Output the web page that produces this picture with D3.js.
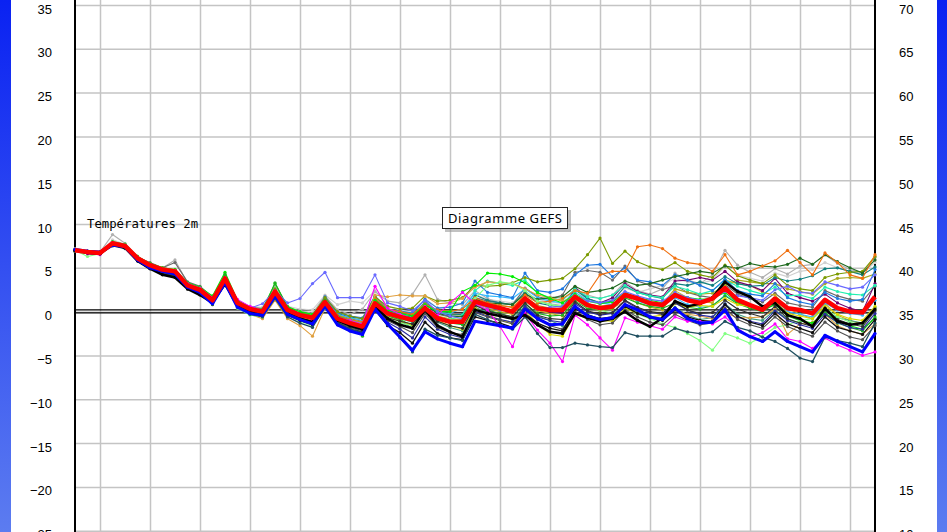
<!DOCTYPE html>
<html>
<head>
<meta charset="utf-8">
<script src="https://cdn.jsdelivr.net/npm/d3@7"></script>
<style>
  body { margin: 0; background: #fff; }
  svg { display: block; }
</style>
</head>
<body>
<script>
    //tick values for both axes
    var leftTicks = [-25, -20, -15, -10, -5, 0, 5, 10, 15, 20, 25, 30, 35];
    var rightTicks = [10, 15, 20, 25, 30, 35, 40, 45, 50, 55, 60, 65, 70];
    //vertical grid every 24h (index of the 6-hourly step)
    var dayGrid = [2, 6, 10, 14, 18, 22, 26, 30, 34, 38, 42, 46, 50, 54, 58, 62];

    //ensemble mean (red)
    var mean = [7.0,6.8,6.7,7.8,7.5,6.1,5.3,4.8,4.6,3.0,2.5,1.3,3.8,1.0,0.3,0.0,2.3,
        0.2,-0.4,-0.7,1.1,-0.8,-1.3,-1.7,0.95,-0.2,-0.6,-0.95,0.4,-0.75,-1.15,-1.15,
        1.15,0.75,0.4,0.0,1.5,0.4,0.2,0.2,1.7,0.75,0.4,0.6,1.9,1.5,0.95,0.75,
        1.9,1.3,1.0,1.5,2.7,1.35,0.75,0.2,1.5,0.4,0.2,-0.2,1.35,0.4,0.0,-0.1,1.7];

    //ensemble members
    var memBlue = [7.1,6.9,6.8,7.6,7.4,5.9,5.0,4.6,4.3,2.8,2.2,0.9,3.3,0.5,-0.2,-0.4,1.8,
        -0.3,-0.9,-1.4,0.6,-1.5,-2.2,-2.6,0.3,-1.4,-2.9,-4.4,-2.3,-3.1,-3.6,-4.0,
        -1.1,-1.35,-1.6,-1.9,0.3,-0.8,-1.5,-1.4,0.6,-0.5,-0.9,-0.7,0.8,0.2,-0.6,-0.9,
        0.4,-0.8,-1.3,-1.2,0.2,-2.1,-2.85,-3.4,-2.3,-3.4,-4.0,-4.6,-2.7,-3.4,-4.0,-4.6,-2.5];
    var memBlack = [7.0,6.7,6.6,7.7,7.3,5.8,4.9,4.2,3.9,2.6,1.9,1.0,3.2,0.6,0.0,-0.3,1.9,
        -0.2,-0.8,-1.2,0.8,-1.0,-1.6,-2.0,0.6,-0.8,-1.5,-1.9,0.2,-1.6,-2.3,-2.85,
        0.2,-0.2,-0.5,-0.8,-0.4,-1.5,-2.3,-2.5,-0.2,-0.7,-1.1,-0.8,0.0,-1.0,-1.7,-0.7,
        1.2,0.6,0.9,1.6,3.4,2.3,1.7,0.6,1.0,-0.4,-0.8,-1.7,0.4,-1.1,-1.5,-1.3,0.3];
    var memMagenta = [7.0,6.6,6.5,7.9,7.6,6.2,5.4,4.9,4.7,3.2,2.7,1.6,3.9,1.4,0.6,0.2,2.2,
        0.1,-0.5,-0.9,0.7,-0.6,-1.0,-1.4,2.9,0.4,-0.3,-0.8,0.6,-0.4,1.0,2.2,
        0.9,0.2,-1.7,-4.0,-0.2,-2.1,-3.6,-5.7,-0.4,-1.5,-3.0,-4.4,-0.7,-1.2,-1.6,-2.0,
        -0.6,-1.1,-1.1,-1.4,-0.6,-1.9,-2.85,-2.4,-1.4,-3.1,-3.4,-4.2,-3.0,-3.8,-4.4,-5.0,-4.6];
    var memSlate = [6.9,6.8,6.6,7.5,7.2,5.8,5.1,4.5,4.2,2.7,2.0,1.1,3.0,0.7,-0.3,-0.6,1.5,
        -0.6,-1.3,-1.8,0.5,-1.3,-2.0,-2.4,0.4,-1.5,-3.0,-4.6,-2.0,-2.7,-3.0,-3.3,
        -0.3,-0.9,-1.5,-2.0,-0.6,-2.5,-4.1,-4.1,-3.6,-3.8,-4.0,-4.1,-2.4,-2.8,-2.8,-2.8,
        -1.9,-2.3,-2.5,-2.3,-1.1,-1.8,-2.2,-2.9,-3.4,-4.2,-5.3,-5.7,-2.9,-3.3,-3.6,-4.0,-1.3];
    var memOrange = [7.0,6.8,6.7,7.9,7.6,6.2,5.5,5.0,4.8,3.2,2.7,1.5,3.9,1.2,0.4,0.1,2.4,
        0.3,-0.3,-0.6,1.3,-0.4,-0.9,-1.2,1.5,0.3,0.0,-0.3,0.9,0.2,0.0,0.3,
        1.6,1.0,0.7,0.5,1.9,1.0,1.2,1.5,2.4,2.1,4.2,4.6,4.6,7.4,7.6,7.2,
        6.1,5.6,5.4,4.6,6.5,4.2,4.6,5.2,5.8,7.0,5.6,4.2,6.7,5.6,4.2,3.8,6.5];
    var memOlive = [7.0,6.8,6.7,7.8,7.6,6.1,5.4,4.9,4.7,3.1,2.6,1.4,4.0,1.1,0.4,0.0,2.6,
        0.4,-0.2,-0.4,1.6,0.0,-0.5,-0.8,1.7,0.6,0.3,0.4,1.8,1.2,1.3,1.6,
        3.0,2.9,3.0,3.3,3.9,3.4,3.6,3.8,4.9,6.5,8.4,5.5,6.9,5.7,5.1,4.8,
        5.6,4.6,4.2,3.9,5.3,4.1,3.6,3.2,4.2,3.0,2.6,2.4,3.9,4.3,4.5,4.6,6.3];
    var memDkGreen = [7.1,6.9,6.8,7.7,7.5,6.0,5.2,4.7,4.4,2.9,2.2,0.8,3.5,0.8,0.1,-0.2,2.1,
        0.0,-0.6,-1.0,1.0,-0.7,-1.2,-1.5,1.3,0.0,-0.4,-0.7,0.8,-0.2,-0.5,-0.6,
        1.4,1.0,0.9,0.8,2.0,1.4,1.6,1.7,2.9,2.2,2.4,2.7,3.5,3.0,3.2,3.6,
        4.0,4.3,4.6,4.4,5.2,4.95,5.5,5.2,5.1,5.4,6.1,5.4,6.5,5.7,5.0,4.4,5.9];
    var memLtGreen = [7.0,6.3,6.6,7.7,7.4,6.0,5.2,4.6,4.4,2.8,2.3,1.0,3.6,0.4,-0.4,-0.6,1.6,
        -0.4,-1.1,-1.6,0.4,-1.2,-1.8,-2.1,0.6,-0.9,-1.3,-1.6,0.4,-0.7,-0.9,-0.8,
        1.5,3.0,3.4,3.2,2.4,1.2,0.8,0.6,1.5,0.6,0.2,-0.2,0.6,-0.3,-0.8,-1.4,
        -1.8,-2.5,-3.3,-4.4,-2.5,-3.0,-3.6,-2.8,-1.8,-1.5,-1.0,-0.8,0.4,-0.6,-1.2,-1.5,0.3];
    var memLime = [6.9,6.7,6.8,8.0,7.7,6.3,5.5,5.0,4.8,3.3,2.8,1.8,4.5,1.3,0.5,0.3,3.2,
        0.6,0.0,-0.3,1.2,-0.5,-1.0,-1.4,1.3,0.2,-0.2,-0.5,0.8,0.0,0.0,2.3,
        3.0,4.4,4.3,4.0,3.3,2.2,1.5,1.0,2.0,1.2,0.9,1.1,2.2,1.6,1.3,1.0,
        2.1,1.6,1.4,1.5,2.2,1.0,0.6,0.2,0.8,-0.4,-1.0,-1.3,-0.2,-1.0,-1.6,-2.0,-0.8];
    var memPeri = [7.0,6.9,6.8,7.8,7.4,6.0,5.3,4.8,4.5,2.9,2.4,1.2,3.6,1.0,0.4,0.9,2.4,
        1.0,1.5,3.2,4.5,1.6,1.6,1.6,4.2,1.0,0.6,0.1,1.3,0.0,-0.5,-0.8,
        0.9,0.5,0.2,-0.1,1.2,0.3,0.5,0.6,1.8,1.2,1.0,1.3,2.3,1.8,1.4,1.2,
        2.2,1.6,1.3,1.5,2.3,1.8,1.6,1.3,2.5,2.9,2.2,2.1,3.4,3.0,2.6,2.8,4.2];
    var memSilver = [7.2,6.9,6.8,8.8,7.8,6.3,5.5,5.0,5.9,3.3,2.8,1.7,4.2,1.3,0.6,0.4,2.9,
        0.5,0.1,-0.2,1.8,0.2,-0.3,0.3,2.3,1.2,1.0,2.0,4.2,1.4,1.0,0.8,
        2.4,1.5,1.0,0.8,2.0,1.2,0.9,0.7,2.6,1.9,1.5,1.9,3.4,2.4,2.0,2.6,
        4.4,3.6,3.2,4.2,7.0,5.3,4.5,3.9,4.9,4.3,5.2,5.4,6.5,5.5,4.8,4.5,6.2];
    var memGray = [7.0,6.8,6.7,7.8,7.5,6.2,5.6,5.0,5.6,3.4,2.9,1.6,4.0,1.2,0.5,0.1,2.5,
        0.2,-0.4,-0.6,1.4,-0.3,-0.8,-1.1,1.4,0.2,-0.1,-0.4,1.0,-0.3,-0.6,-0.5,
        1.6,1.2,1.0,0.8,2.7,1.7,1.4,1.9,4.5,4.7,4.5,3.6,5.2,3.5,3.0,2.5,
        3.0,2.2,1.8,1.6,3.1,2.0,1.5,1.1,2.1,1.0,0.7,0.5,2.4,1.8,1.4,1.2,2.9];
    var memYellow = [7.0,6.7,6.7,7.7,7.4,6.0,5.2,4.6,4.3,2.9,2.3,1.1,3.7,0.9,0.2,-0.1,2.0,
        0.0,-0.6,-1.0,0.9,-0.9,-1.4,-1.9,0.7,-0.6,-1.1,-1.5,0.3,-1.0,-1.6,-2.0,
        0.4,-0.4,-0.9,-1.3,0.2,-1.4,-2.6,-2.8,-0.3,-0.8,-1.0,-1.1,0.4,-0.2,-0.6,-0.4,
        0.9,0.5,0.7,0.6,1.5,0.8,0.6,0.5,1.2,-0.2,-0.5,-0.8,0.6,-0.3,-0.8,-1.0,0.6];
    var memTeal = [7.0,6.8,6.7,7.8,7.5,6.1,5.4,4.9,4.7,3.1,2.5,1.4,3.8,1.1,0.5,0.2,2.4,
        0.4,-0.3,-0.6,1.5,-0.2,-0.6,-0.8,1.6,0.1,-0.3,-0.6,1.1,-0.1,-0.4,-0.3,
        1.9,1.3,1.0,0.8,2.2,1.0,0.7,0.5,2.5,1.5,1.0,1.2,2.9,2.2,1.8,1.5,
        3.2,3.0,3.4,3.0,4.0,3.2,2.9,3.0,3.9,3.5,3.7,4.1,4.9,5.0,4.6,4.2,5.1];
    var memAqua = [7.0,6.8,6.7,7.8,7.4,6.1,5.3,4.8,4.5,3.0,2.4,1.2,3.7,1.0,0.2,-0.1,2.2,
        0.1,-0.4,-0.8,1.2,-0.5,-0.9,-1.3,1.0,-0.4,-0.8,-1.2,0.5,-0.7,-0.9,-0.4,
        2.4,3.5,3.2,3.0,3.6,2.1,1.6,1.3,2.6,1.7,1.5,1.9,3.0,2.2,1.8,1.6,
        2.9,2.5,2.0,2.4,3.6,2.9,2.4,2.0,2.8,1.8,1.9,1.5,2.8,2.3,2.0,1.9,3.0];
    var memDodger = [7.0,6.8,6.6,7.7,7.5,6.1,5.4,4.8,4.5,3.0,2.5,1.3,3.9,1.1,0.4,0.0,2.3,
        0.3,-0.3,-0.6,1.7,-0.1,-0.5,-0.7,1.8,0.3,0.1,-0.2,1.4,0.4,0.5,1.0,
        3.5,2.2,1.9,1.6,4.4,2.4,2.2,2.6,4.2,5.3,5.4,4.0,5.0,3.6,3.4,3.0,
        4.2,3.6,3.0,2.4,3.7,2.4,2.0,1.8,3.2,1.6,1.1,0.8,2.2,1.5,1.2,1.4,4.8];
    var memPurple = [7.0,6.8,6.7,7.8,7.5,6.1,5.3,4.8,4.7,3.0,2.5,1.3,3.8,1.0,0.3,0.0,2.3,
        0.2,-0.4,-0.7,1.1,-0.8,-1.2,-1.6,1.0,-0.2,-0.6,-0.9,0.5,-0.6,-1.0,-1.0,
        1.3,0.8,0.4,0.1,1.6,0.3,0.0,-0.2,2.8,1.5,1.0,1.6,3.2,2.3,1.9,1.7,
        3.5,3.6,3.9,3.6,4.6,3.4,3.0,2.4,3.8,2.1,1.6,1.2,2.0,1.0,0.4,0.0,3.2];
    var memTan = [7.0,6.8,6.7,7.7,7.4,6.0,5.2,4.7,4.4,2.9,2.3,1.0,3.2,0.6,-0.3,-0.8,1.3,
        -0.8,-1.6,-2.8,0.4,-1.1,-1.6,-2.0,1.9,1.7,1.9,1.8,1.8,0.9,1.0,1.5,
        2.8,3.4,3.3,3.2,2.6,1.9,1.6,1.2,1.8,0.9,0.6,0.4,1.2,0.4,0.0,-0.4,
        0.2,-0.3,-0.5,-0.8,-0.1,-0.7,-0.7,-0.6,0.3,-2.6,-1.4,-1.2,-0.3,-1.6,-2.2,-2.6,-1.4];
    var memGreen = [7.0,6.8,6.7,7.8,7.5,6.0,5.4,4.9,4.6,3.1,2.6,1.5,4.3,1.2,0.3,0.0,3.3,
        0.5,-0.2,-0.5,1.3,-0.6,-1.2,-2.8,0.9,-0.5,-0.9,-1.6,0.3,-0.9,-1.3,-1.5,
        0.8,0.2,-0.2,-0.6,0.9,-0.2,-0.5,-0.4,1.2,0.4,0.2,0.4,1.6,1.0,0.6,0.4,
        1.0,0.5,0.3,0.7,1.8,0.9,0.4,0.0,0.9,-0.5,-1.0,-1.5,-0.1,-1.3,-1.8,-2.2,-0.6];
    var memCharcoal = [7.1,6.8,6.7,7.7,7.4,5.9,5.1,4.5,4.2,2.7,2.1,0.9,3.4,0.7,0.0,-0.3,2.0,
        -0.1,-0.7,-1.1,0.9,-1.0,-1.5,-1.9,0.8,-0.7,-1.1,-1.4,0.2,-1.1,-1.6,-1.9,
        0.7,0.1,-0.3,-0.6,1.0,-0.4,-0.8,-0.9,1.1,0.1,-0.3,-0.1,1.3,0.5,0.0,-0.2,
        1.1,0.2,-0.2,-0.1,1.3,0.3,-0.2,-0.6,0.6,-0.8,-1.3,-1.7,0.2,-0.9,-1.4,-1.7,0.1];
    var memSky = [7.0,6.8,6.7,7.8,7.5,6.1,5.3,4.9,4.6,3.0,2.5,1.3,3.8,1.0,0.3,0.0,2.2,
        0.2,-0.3,-0.6,1.4,-0.3,-0.7,-1.0,1.2,0.0,-0.3,-0.6,0.9,-0.1,-0.2,0.4,
        2.1,1.8,1.7,1.5,2.6,1.6,1.2,1.0,2.2,1.3,1.0,0.8,2.0,1.2,0.8,0.6,
        1.6,0.8,0.5,0.6,1.9,1.0,0.5,0.1,1.4,0.0,-0.3,-0.6,1.0,0.2,-0.2,-0.4,1.3];
    var memKhaki = [7.0,6.8,6.7,7.8,7.5,6.1,5.3,4.9,4.6,3.0,2.5,1.3,3.9,1.1,0.3,0.0,2.3,
        0.3,-0.3,-0.5,1.2,-0.4,-0.7,-1.0,1.3,0.1,-0.3,-0.5,0.9,0.0,-0.3,-0.4,
        1.5,1.0,0.7,0.5,1.7,0.7,0.4,0.3,1.7,0.9,0.6,0.8,2.0,1.3,1.0,0.9,
        2.6,2.2,2.0,2.1,3.0,3.6,3.4,3.2,3.2,2.6,2.3,2.0,3.2,3.8,3.9,3.8,4.3];
    var memInk = [7.0,6.7,6.6,7.6,7.3,5.8,4.9,4.3,4.0,2.6,2.0,1.0,3.3,0.6,-0.1,-0.4,1.8,
        -0.4,-1.0,-1.5,0.6,-1.3,-2.0,-2.4,0.2,-1.6,-2.4,-3.6,-1.2,-2.5,-3.0,-3.2,
        -0.6,-1.0,-1.3,-1.8,-0.2,-1.3,-1.9,-2.2,0.3,-0.4,-0.8,-0.6,0.6,-0.2,-0.7,-1.0,
        0.2,-0.6,-1.0,-1.1,0.8,-0.5,-1.2,-1.6,-0.2,-1.4,-1.9,-2.4,-0.6,-1.8,-2.2,-2.6,-0.9];
    var memNavy = [7.0,6.8,6.7,7.7,7.4,6.0,5.2,4.7,4.4,2.9,2.3,1.1,3.5,0.8,0.1,-0.2,2.0,
        -0.1,-0.7,-1.2,0.8,-1.1,-1.7,-2.2,0.4,-1.2,-2.0,-3.0,-0.6,-2.0,-2.6,-3.0,
        0.0,-0.5,-0.9,-1.2,0.6,-0.6,-1.0,-1.2,0.9,0.0,-0.4,-0.2,1.2,0.4,-0.1,-0.3,
        1.0,0.2,-0.4,-0.6,0.9,-0.6,-1.1,-1.4,0.1,-1.0,-1.5,-1.9,-0.3,-1.2,-1.8,-2.0,-0.2];
    var memPale = [7.1,6.9,6.8,8.2,7.7,6.3,5.5,5.0,4.9,3.2,2.7,1.6,4.1,1.3,0.6,0.5,2.6,
        0.6,0.3,0.2,1.9,0.8,1.2,1.0,2.4,0.6,0.2,-0.1,1.5,0.4,0.6,0.9,
        2.0,1.4,1.2,1.0,2.3,1.4,1.1,0.9,2.2,1.5,1.1,1.4,2.7,2.2,2.6,3.0,
        3.8,3.4,3.2,3.6,5.2,4.2,3.8,3.5,4.4,4.0,4.6,4.8,5.6,5.0,4.6,4.4,5.6];
    var memSea = [7.0,6.8,6.7,7.8,7.5,6.1,5.3,4.8,4.5,3.0,2.4,1.2,3.6,0.9,0.2,-0.2,2.1,
        0.0,-0.5,-0.9,1.0,-0.7,-1.1,-1.5,0.8,-0.5,-1.0,-1.9,0.0,-1.2,-1.8,-2.2,
        0.5,-0.1,-0.5,-0.9,0.7,-0.5,-1.0,-1.6,0.6,-0.3,-0.9,-0.6,0.8,0.0,-0.5,-0.8,
        0.5,-0.4,-0.9,-0.7,0.9,-0.3,-0.8,-1.0,0.2,-0.9,-1.3,-1.5,0.1,-0.7,-1.0,-1.3,0.5];
    var memSmoke = [6.9,6.7,6.6,7.6,7.3,5.9,5.0,4.4,4.1,2.7,2.1,1.0,3.5,0.7,0.0,-0.4,1.9,
        -0.3,-0.9,-1.3,0.7,-1.2,-1.8,-2.3,0.5,-1.0,-1.7,-2.4,-0.2,-1.8,-2.4,-2.6,
        -0.1,-0.6,-1.0,-1.4,0.4,-0.9,-1.6,-2.0,0.0,-0.9,-1.5,-1.3,0.2,-0.6,-1.2,-1.5,
        -0.3,-1.0,-1.5,-1.3,0.4,-0.9,-1.5,-1.9,-0.6,-1.7,-2.3,-2.8,-1.2,-2.2,-2.9,-3.2,-1.6];
    var memGold = [7.0,6.8,6.7,7.8,7.5,6.1,5.3,4.8,4.6,3.0,2.5,1.3,3.7,1.0,0.2,-0.1,2.1,
        0.1,-0.5,-0.8,1.0,-0.5,-0.9,-1.2,1.2,-0.3,-0.7,-1.1,0.6,-0.5,-0.8,-0.9,
        1.0,0.4,0.0,-0.3,1.2,0.1,-0.2,-0.5,1.4,0.5,0.1,0.3,1.8,1.0,0.5,0.2,
        2.4,1.6,1.2,1.0,3.6,3.2,3.0,2.2,1.9,0.4,-0.3,-0.8,0.9,-0.4,-1.0,-1.4,0.2];

    //member list: values, colour, line width (thin ones first, thick on top)
    var members = [
        [memPale, "#d0d0d0", 1.1], [memSilver, "#b0b0b0", 1.1], [memGray, "#6a6a6a", 1.1],
        [memKhaki, "#a8a820", 1.1], [memGold, "#c8b020", 1.1], [memPurple, "#700070", 1.1],
        [memTeal, "#108080", 1.1], [memSea, "#40a080", 1.1], [memAqua, "#20f0b0", 1.1],
        [memSky, "#30b8ff", 1.1], [memDodger, "#1e78e0", 1.1], [memOlive, "#7a9a00", 1.1],
        [memDkGreen, "#1f6a1f", 1.1], [memOrange, "#f07010", 1.1], [memTan, "#e0a040", 1.1],
        [memLime, "#00ee00", 1.1], [memGreen, "#20b020", 1.1], [memLtGreen, "#80ff80", 1.1],
        [memYellow, "#d8d800", 1.1], [memPeri, "#6a6aff", 1.1], [memNavy, "#2a2aa0", 1.1],
        [memSmoke, "#505050", 1.1], [memCharcoal, "#303030", 1.1], [memInk, "#101010", 1.3],
        [memMagenta, "#ff00ff", 1.1], [memSlate, "#1f4f5f", 1.3],
        [memBlack, "#000000", 2.5], [memBlue, "#0000ff", 3]
    ];

    var width = 947;
    var height = 532;

    var svg = d3.select("body")
        .append("svg")
        .attr("width", width)
        .attr("height", height);

    //blue side strips
    var grad = svg.append("defs").append("linearGradient")
        .attr("id", "side").attr("x1", 0).attr("y1", 0).attr("x2", 0).attr("y2", 1);
    grad.append("stop").attr("offset", "0%").attr("stop-color", "#0a22f2");
    grad.append("stop").attr("offset", "100%").attr("stop-color", "#5c7cf0");
    svg.append("rect").attr("x", 0).attr("y", 0).attr("width", 11).attr("height", height).attr("fill", "url(#side)");
    svg.append("rect").attr("x", 937).attr("y", 0).attr("width", 10).attr("height", height).attr("fill", "url(#side)");

    //scales
    var xScale = d3.scaleLinear().domain([0, 64]).range([75, 875]);
    var yScale = d3.scaleLinear().domain([-25, 35]).range([530.7, 5]);
    var yRight = d3.scaleLinear().domain([10, 70]).range([530.7, 5]);

    //horizontal grid
    svg.append("g")
        .attr("class", "grid")
        .attr("transform", "translate(75,0)")
        .call(d3.axisRight(yScale).tickValues(leftTicks).tickSize(800).tickFormat(""))
        .call(function (g) { g.select(".domain").remove(); })
        .selectAll("line").attr("stroke", "#c4c4c4").attr("stroke-width", 1.5);

    //vertical grid
    svg.append("g")
        .attr("class", "grid")
        .call(d3.axisBottom(xScale).tickValues(dayGrid).tickSize(height).tickFormat(""))
        .call(function (g) { g.select(".domain").remove(); })
        .selectAll("line").attr("stroke", "#c4c4c4").attr("stroke-width", 1.5);

    //double zero line
    var y0 = yScale(0);
    [y0 - 1.7, y0 + 1.3].forEach(function (yy) {
        svg.append("line")
            .attr("x1", 75).attr("x2", 875).attr("y1", yy).attr("y2", yy)
            .attr("stroke", "#000").attr("stroke-width", 1.2);
    });

    //left / right axis lines
    [75, 875].forEach(function (xx) {
        svg.append("line")
            .attr("x1", xx).attr("x2", xx).attr("y1", 0).attr("y2", height)
            .attr("stroke", "#000").attr("stroke-width", 2);
    });

    //axis labels
    var leftAxis = svg.append("g")
        .attr("transform", "translate(52,0)")
        .call(d3.axisLeft(yScale).tickValues(leftTicks).tickSize(0).tickPadding(0));
    leftAxis.select(".domain").remove();
    leftAxis.selectAll("text")
        .attr("dy", "8")
        .attr("font-family", "Liberation Sans, Arial, sans-serif")
        .attr("font-size", 13).attr("fill", "#000");

    var rightAxis = svg.append("g")
        .attr("transform", "translate(899,0)")
        .call(d3.axisRight(yRight).tickValues(rightTicks).tickSize(0).tickPadding(0));
    rightAxis.select(".domain").remove();
    rightAxis.selectAll("text")
        .attr("dy", "8")
        .attr("font-family", "Liberation Sans, Arial, sans-serif")
        .attr("font-size", 13).attr("fill", "#000");

    //lines
    var line = d3.line()
        .x(function (d, i) { return xScale(i); })
        .y(function (d) { return yScale(d); });

    var chartGroup = svg.append("g");

    members.forEach(function (m) {
        var g = chartGroup.append("g");
        g.append("path")
            .datum(m[0])
            .attr("d", line)
            .attr("fill", "none")
            .attr("stroke", m[1])
            .attr("stroke-width", m[2])
            .attr("stroke-linejoin", "round");
        g.selectAll("circle")
            .data(m[0])
            .enter()
            .append("circle")
            .attr("cx", function (d, i) { return xScale(i); })
            .attr("cy", function (d) { return yScale(d); })
            .attr("r", 1.6)
            .attr("fill", m[1]);
    });

    //ensemble mean
    chartGroup.append("path")
        .datum(mean)
        .attr("d", line)
        .attr("fill", "none")
        .attr("stroke", "#ff0000")
        .attr("stroke-width", 4.5)
        .attr("stroke-linejoin", "round");

    //label
    svg.append("text")
        .attr("x", 87).attr("y", 228)
        .attr("font-family", "DejaVu Sans Mono, monospace")
        .attr("font-size", 12.3)
        .attr("fill", "#000")
        .text("Températures 2m");

    //title box with shadow
    svg.append("rect")
        .attr("x", 445).attr("y", 210).attr("width", 126).attr("height", 22)
        .attr("fill", "#9a9a9a").attr("opacity", 0.6);
    svg.append("rect")
        .attr("x", 442.5).attr("y", 207.5).attr("width", 125).attr("height", 21)
        .attr("fill", "#fff").attr("stroke", "#222").attr("stroke-width", 1);
    svg.append("text")
        .attr("x", 448).attr("y", 223)
        .attr("font-family", "Noto Sans, DejaVu Sans, sans-serif")
        .attr("font-size", 13)
        .attr("textLength", 114)
        .attr("fill", "#000")
        .text("Diagramme GEFS");
</script>
</body>
</html>
